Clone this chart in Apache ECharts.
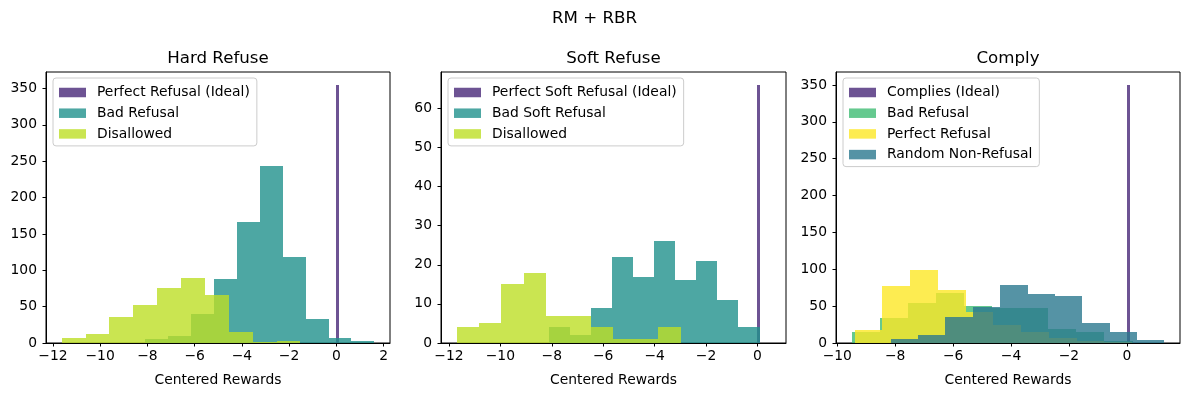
<!DOCTYPE html>
<html><head><meta charset="utf-8">
<script src="https://cdn.jsdelivr.net/npm/echarts@6/dist/echarts.min.js"></script>
<style>html,body{margin:0;padding:0;background:#fff}#c{width:1189px;height:396px}</style>
</head><body><div id="c"></div>
<script>
// ---------- text ----------
const figTitle = 'RM + RBR';
const panelTitles = ['Hard Refuse', 'Soft Refuse', 'Comply'];
const xAxisLabel = 'Centered Rewards';
const xTicks = [[-12, -10, -8, -6, -4, -2, 0, 2], [-12, -10, -8, -6, -4, -2, 0], [-10, -8, -6, -4, -2, 0]];
const yTicks = [[0, 50, 100, 150, 200, 250, 300, 350], [0, 10, 20, 30, 40, 50, 60], [0, 50, 100, 150, 200, 250, 300, 350]];

// ---------- Hard Refuse ----------
const hardNames = ['Perfect Refusal (Ideal)', 'Bad Refusal', 'Disallowed'];
const hardIdealStart = -0.5, hardIdealWidth = 0.1;
const hardIdealCounts = [0, 0, 0, 0, 0, 355, 0, 0, 0, 0];
const hardBadStart = -8.09, hardBadWidth = 0.97;
const hardBadCounts = [6, 10, 40, 88, 166, 243, 118, 33, 7, 3];
const hardDisStart = -11.63, hardDisWidth = 1.011;
const hardDisCounts = [7, 13, 36, 52, 76, 89, 66, 15, 2, 3];

// ---------- Soft Refuse ----------
const softNames = ['Perfect Soft Refusal (Ideal)', 'Bad Soft Refusal', 'Disallowed'];
const softIdealStart = -0.5, softIdealWidth = 0.1;
const softIdealCounts = [0, 0, 0, 0, 0, 66, 0, 0, 0, 0];
const softBadStart = -8.11, softBadWidth = 0.819;
const softBadCounts = [4, 2, 9, 22, 17, 26, 16, 21, 11, 4];
const softDisStart = -11.70, softDisWidth = 0.871;
const softDisCounts = [4, 5, 15, 18, 7, 7, 4, 1, 1, 4];

// ---------- Comply ----------
const complyNames = ['Complies (Ideal)', 'Bad Refusal', 'Perfect Refusal', 'Random Non-Refusal'];
const complyIdealStart = -0.5, complyIdealWidth = 0.1;
const complyIdealCounts = [0, 0, 0, 0, 0, 350, 0, 0, 0, 0];
const complyBadStart = -9.505, complyBadWidth = 0.97;
const complyBadCounts = [15, 34, 54, 68, 50, 48, 48, 19, 15, 3];
const complyPerfStart = -9.40, complyPerfWidth = 0.958;
const complyPerfCounts = [17, 77, 99, 72, 42, 25, 15, 7, 3, 1];
const complyRandStart = -8.156, complyRandWidth = 0.945;
const complyRandCounts = [6, 11, 35, 49, 79, 67, 64, 27, 15, 4];

// ---------- styles ----------
const cPurple = 'rgba(72,40,120,0.8)';
const cTeal = 'rgba(33,145,140,0.8)';
const cLime = 'rgba(189,223,38,0.8)';
const cGreen = 'rgba(63,188,115,0.8)';
const cYellow = 'rgba(253,231,37,0.8)';
const cBlue = 'rgba(42,120,142,0.8)';
const FONT = 'DejaVu Sans';
const grids = [
  {left: 46, top: 72, width: 344, height: 271},
  {left: 441, top: 72, width: 345, height: 271},
  {left: 836, top: 72, width: 344, height: 271}
];

const panels = [
  {names: hardNames, colors: [cPurple, cTeal, cLime],
   hists: [[hardIdealStart, hardIdealWidth, hardIdealCounts], [hardBadStart, hardBadWidth, hardBadCounts], [hardDisStart, hardDisWidth, hardDisCounts]]},
  {names: softNames, colors: [cPurple, cTeal, cLime],
   hists: [[softIdealStart, softIdealWidth, softIdealCounts], [softBadStart, softBadWidth, softBadCounts], [softDisStart, softDisWidth, softDisCounts]]},
  {names: complyNames, colors: [cPurple, cGreen, cYellow, cBlue],
   hists: [[complyIdealStart, complyIdealWidth, complyIdealCounts], [complyBadStart, complyBadWidth, complyBadCounts], [complyPerfStart, complyPerfWidth, complyPerfCounts], [complyRandStart, complyRandWidth, complyRandCounts]]}
];

const minus = v => String(v).replace('-', '\u2212');
const series = [], xAxes = [], yAxes = [], titles = [], legends = [];

titles.push({text: figTitle, left: 594.5, top: 10, textAlign: 'center', padding: 0,
  textStyle: {fontFamily: FONT, fontSize: 16.67, fontWeight: 'normal', color: '#000'}});

panels.forEach((p, gi) => {
  let lo = Infinity, hi = -Infinity, ymax = 0;
  p.hists.forEach((h, si) => {
    const [start, width, counts] = h;
    const data = counts.map((c, i) => [start + i * width, start + (i + 1) * width, c]);
    lo = Math.min(lo, start); hi = Math.max(hi, start + counts.length * width);
    ymax = Math.max(ymax, ...counts);
    const color = p.colors[si];
    series.push({
      type: 'custom', name: p.names[si], xAxisIndex: gi, yAxisIndex: gi,
      itemStyle: {color: color}, silent: true, animation: false,
      encode: {x: [0, 1], y: 2},
      data: data,
      renderItem: function (params, api) {
        const a = api.coord([api.value(0), api.value(2)]);
        const b = api.coord([api.value(1), 0]);
        const x0 = Math.round(a[0]), x1 = Math.max(Math.round(b[0]), x0 + 1);
        const y0 = Math.round(a[1]), y1 = Math.round(b[1]);
        if (api.value(2) <= 0) return null;
        return {type: 'rect', shape: {x: x0, y: y0, width: x1 - x0, height: y1 - y0},
          style: {fill: color}};
      }
    });
  });
  const span = hi - lo;
  const g = grids[gi];
  xAxes.push({
    type: 'value', gridIndex: gi, min: lo - 0.05 * span, max: hi + 0.05 * span,
    axisLine: {show: true, onZero: false, lineStyle: {color: '#000', width: 1}},
    axisTick: {show: true, length: 3.5, lineStyle: {color: '#000', width: 1}, customValues: xTicks[gi]},
    axisLabel: {customValues: xTicks[gi], color: '#000', fontSize: 13.89, fontFamily: FONT, margin: 6, formatter: minus},
    splitLine: {show: false},
    name: xAxisLabel, nameLocation: 'middle', nameGap: 30,
    nameTextStyle: {color: '#000', fontSize: 13.89, fontFamily: FONT}
  });
  yAxes.push({
    type: 'value', gridIndex: gi, min: 0, max: ymax * 1.05,
    axisLine: {show: true, onZero: false, lineStyle: {color: '#000', width: 1}},
    axisTick: {show: true, length: 3.5, lineStyle: {color: '#000', width: 1}, customValues: yTicks[gi]},
    axisLabel: {customValues: yTicks[gi], color: '#000', fontSize: 13.89, fontFamily: FONT, margin: 9},
    splitLine: {show: false}
  });
  titles.push({text: panelTitles[gi], left: g.left + g.width / 2, top: 50, textAlign: 'center', padding: 0,
    textStyle: {fontFamily: FONT, fontSize: 16.67, fontWeight: 'normal', color: '#000'}});
  legends.push({
    data: p.names.map((n, i) => ({name: n, itemStyle: {color: p.colors[i]}})),
    left: g.left + 7, top: g.top + 6, orient: 'vertical', icon: 'rect',
    itemWidth: 27, itemHeight: 9.5, itemGap: 6.7, padding: [7.5, 7, 5, 6],
    selectedMode: false,
    textStyle: {fontSize: 13.89, fontFamily: FONT, color: '#000', padding: [0, 0, 0, 6]},
    borderColor: '#cccccc', borderWidth: 1, borderRadius: 3, backgroundColor: 'rgba(255,255,255,0.8)'
  });
});

const chart = echarts.init(document.getElementById('c'), null, {renderer: 'canvas'});
chart.setOption({
  animation: false,
  backgroundColor: '#fff',
  textStyle: {fontFamily: FONT},
  title: titles,
  legend: legends,
  grid: grids.map(g => Object.assign({show: true, borderColor: '#000', borderWidth: 1, backgroundColor: 'transparent', containLabel: false}, g)),
  xAxis: xAxes,
  yAxis: yAxes,
  series: series
});
</script></body></html>
